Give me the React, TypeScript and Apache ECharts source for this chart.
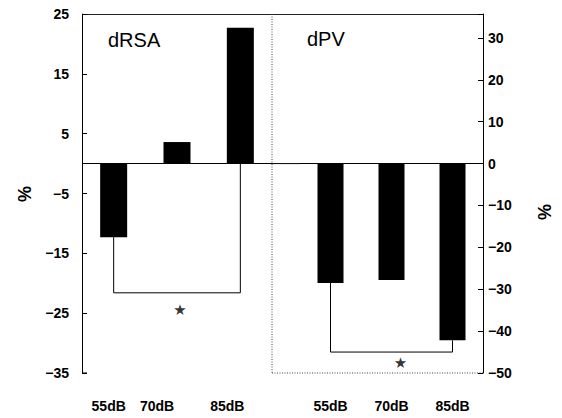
import React, { useEffect, useRef } from "react";
import * as echarts from "echarts";

const categories = ["55dB", "70dB", "85dB"];
const dRSA = [-12.3, 3.6, 22.7];
const dPV = [-28.5, -27.8, -42.2];
const bracketRSA = -21.6;
const starRSA = -24.5;
const bracketPV = -45.0;
const starPV = -47.7;
const leftTickLabels = [-35, -25, -15, -5, 5, 15, 25];
const rightTickLabels = [-50, -40, -30, -20, -10, 0, 10, 20, 30];
// horizontal nudges (px) of the left panel's category labels, as printed
const leftLabelShift = [-5, -20, -13];

const fmtNum = (v: number) => (v < 0 ? "\u2212" + Math.abs(v) : String(v));
const FONT = "Liberation Sans, Arial, sans-serif";

export default function App() {
  const ref = useRef<HTMLDivElement>(null);
  useEffect(() => {
    if (!ref.current) return;
    const chart = echarts.init(ref.current, undefined, { renderer: "svg" });
    const gTop = 14, gBottom = 45, lLeft = 82, lRight = 290, rLeft = 300, rRight = 79;
    const H = 418, W = 562;
    const plotH = H - gTop - gBottom;
    const leftMin = leftTickLabels[0], leftMax = leftTickLabels[leftTickLabels.length - 1];
    const zeroY = gTop + plotH * (leftMax / (leftMax - leftMin));
    const rightMin = rightTickLabels[0];
    const rightMax = (-rightMin * leftMax) / -leftMin;
    const divX = W - lRight;
    const axisText = { color: "#000", fontSize: 14, fontFamily: FONT, fontWeight: "bold" as const };
    const black = "#000";

    const rich: any = {};
    leftLabelShift.forEach((s, i) => {
      rich["s" + i] = {
        ...axisText,
        padding: s < 0 ? [0, -2 * s, 0, 0] : [0, 0, 0, 2 * s],
      };
    });

    const option: any = {
      animation: false,
      backgroundColor: "#fff",
      title: [
        { text: "dRSA", left: 103, top: 25, textStyle: { fontSize: 20, fontWeight: "normal", color: black, fontFamily: FONT } },
        { text: "dPV", left: 302, top: 24, textStyle: { fontSize: 20, fontWeight: "normal", color: black, fontFamily: FONT } },
      ],
      grid: [
        { left: lLeft, right: lRight, top: gTop, bottom: gBottom },
        { left: rLeft, right: rRight, top: gTop, bottom: gBottom },
      ],
      xAxis: [
        {
          type: "category",
          gridIndex: 0,
          data: categories,
          position: "bottom",
          axisLine: { show: false, onZero: false },
          axisTick: { show: false },
          axisLabel: {
            ...axisText,
            margin: 26,
            interval: 0,
            hideOverlap: false,
            formatter: (v: string, i: number) => `{s${i}|${v}}`,
            rich,
          },
          splitLine: { show: false },
        },
        {
          type: "category",
          gridIndex: 1,
          data: categories,
          position: "bottom",
          axisLine: { show: false, onZero: false },
          axisTick: { show: false },
          axisLabel: { ...axisText, margin: 26, interval: 0 },
          splitLine: { show: false },
        },
      ],
      yAxis: [
        {
          type: "value", gridIndex: 0, position: "left", min: leftMin, max: leftMax,
          axisLine: { show: true, lineStyle: { color: black, width: 1 } },
          axisTick: { show: false }, axisLabel: { show: false }, splitLine: { show: false },
        },
        {
          type: "value", gridIndex: 0, position: "left", min: 0, max: leftMax - leftMin, interval: 10,
          axisLine: { show: false },
          axisTick: { show: true, inside: true, length: 5, lineStyle: { color: black } },
          axisLabel: { ...axisText, margin: 13, formatter: (v: number) => fmtNum(v + leftMin) },
          splitLine: { show: false },
        },
        {
          type: "value", gridIndex: 1, position: "right", min: rightMin, max: rightMax, interval: 10,
          axisLine: { show: true, lineStyle: { color: black, width: 1 } },
          axisTick: { show: true, inside: true, length: 5, lineStyle: { color: black } },
          axisLabel: {
            ...axisText, margin: 5,
            formatter: (v: number) => (Math.abs(v % 10) < 1e-6 && v <= 30 ? fmtNum(v) : ""),
          },
          splitLine: { show: false },
        },
      ],
      series: [
        {
          type: "bar", xAxisIndex: 0, yAxisIndex: 0, data: dRSA, barWidth: 27,
          itemStyle: { color: black },
          markLine: {
            silent: true, symbol: "none", label: { show: false },
            lineStyle: { color: black, width: 1, type: "solid" },
            data: [{ yAxis: 0 }],
          },
        },
        {
          type: "line", xAxisIndex: 0, yAxisIndex: 0, symbol: "none",
          lineStyle: { color: black, width: 1 },
          data: [
            [categories[0], Math.min(dRSA[0], 0)],
            [categories[0], bracketRSA],
            [categories[2], bracketRSA],
            [categories[2], Math.min(dRSA[2], 0)],
          ],
        },
        {
          type: "scatter", xAxisIndex: 0, yAxisIndex: 0, symbolSize: 1,
          itemStyle: { color: "transparent" },
          label: { show: true, position: "inside", formatter: "\u2605", fontSize: 15, color: black, fontFamily: "DejaVu Sans", offset: [3, 0] },
          data: [[categories[1], starRSA]],
        },
        {
          type: "bar", xAxisIndex: 1, yAxisIndex: 2, data: dPV, barWidth: 26,
          itemStyle: { color: black },
          markLine: {
            silent: true, symbol: "none", label: { show: false },
            lineStyle: { color: black, width: 1, type: "solid" },
            data: [{ yAxis: 0 }],
          },
        },
        {
          type: "line", xAxisIndex: 1, yAxisIndex: 2, symbol: "none",
          lineStyle: { color: black, width: 1 },
          data: [
            [categories[0], Math.min(dPV[0], 0)],
            [categories[0], bracketPV],
            [categories[2], bracketPV],
            [categories[2], Math.min(dPV[2], 0)],
          ],
        },
        {
          type: "scatter", xAxisIndex: 1, yAxisIndex: 2, symbolSize: 1,
          itemStyle: { color: "transparent" },
          label: { show: true, position: "inside", formatter: "\u2605", fontSize: 15, color: black, fontFamily: "DejaVu Sans", offset: [9, 0] },
          data: [[categories[1], starPV]],
        },
      ],
      graphic: [
        { type: "line", silent: true, shape: { x1: lLeft, y1: gTop + 0.5, x2: W - rRight, y2: gTop + 0.5 }, style: { stroke: "#222", lineWidth: 1 } },
        { type: "line", silent: true, shape: { x1: divX, y1: gTop, x2: divX, y2: H - gBottom }, style: { stroke: "#444", lineWidth: 1, lineDash: [1, 1.5] } },
        { type: "line", silent: true, shape: { x1: divX, y1: H - gBottom, x2: W - rRight, y2: H - gBottom }, style: { stroke: "#444", lineWidth: 1, lineDash: [1, 1.5] } },
        { type: "line", silent: true, shape: { x1: divX, y1: zeroY, x2: rLeft, y2: zeroY }, style: { stroke: black, lineWidth: 1 } },
        { type: "line", silent: true, shape: { x1: lLeft, y1: H - gBottom, x2: lLeft + 5, y2: H - gBottom }, style: { stroke: black, lineWidth: 1 } },
        {
          type: "text", silent: true, x: 25, y: 194, rotation: Math.PI / 2,
          style: { text: "%", fontSize: 18, fontWeight: "bold", fontFamily: FONT, fill: black, align: "center", verticalAlign: "middle" },
        },
        {
          type: "text", silent: true, x: 545, y: 212, rotation: Math.PI / 2,
          style: { text: "%", fontSize: 18, fontWeight: "bold", fontFamily: FONT, fill: black, align: "center", verticalAlign: "middle" },
        },
      ],
    };
    chart.setOption(option);
    return () => chart.dispose();
  }, []);
  return <div ref={ref} style={{ position: "fixed", left: 0, top: 0, width: 562, height: 418, background: "#fff" }} />;
}
